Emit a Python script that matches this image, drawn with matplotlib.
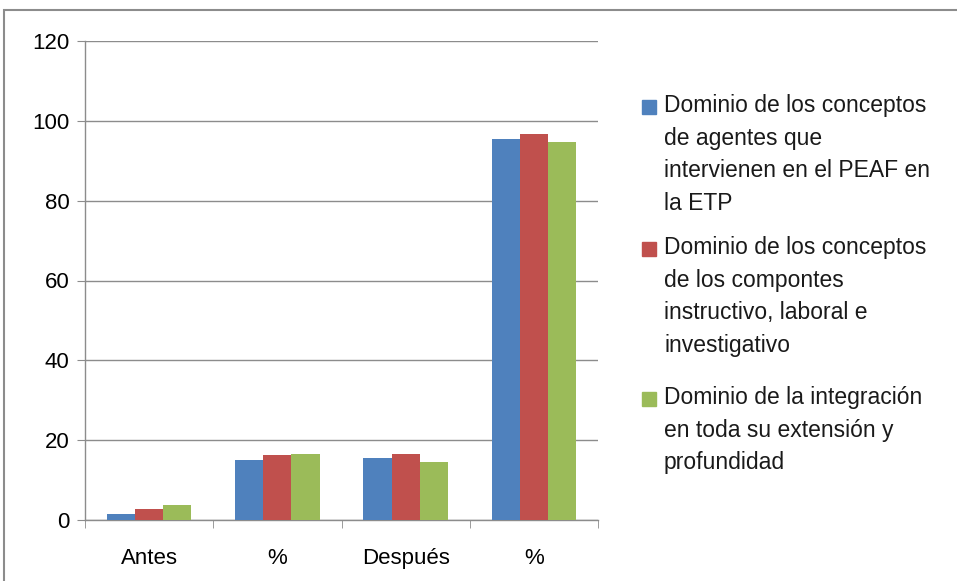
import matplotlib.pyplot as plt
from matplotlib.patches import Rectangle
import numpy as np

plt.rcParams['font.family'] = ['Liberation Sans', 'DejaVu Sans']

# datos
categorias = ['Antes', '%', 'Después', '%']
serie_agentes = [1.5, 15.0, 15.6, 95.4]
serie_componentes = [2.8, 16.3, 16.5, 96.6]
serie_integracion = [3.7, 16.5, 14.6, 94.6]
etiquetas = [
    'Dominio de los conceptos\nde agentes que\nintervienen en el PEAF en\nla ETP',
    'Dominio de los conceptos\nde los compontes\ninstructivo, laboral e\ninvestigativo',
    'Dominio de la integración\nen toda su extensión y\nprofundidad',
]
colores = ['#4F81BD', '#C0504D', '#9BBB59']

W, H = 957, 581
fig = plt.figure(figsize=(W / 100, H / 100), dpi=100)
ax = fig.add_axes([85 / W, 1 - 520 / H, 513 / W, 479 / H])

# marco exterior del gráfico
fig.patches.append(Rectangle((4 / W, -0.05), 1.0, 1 - 10 / H + 0.05,
                             transform=fig.transFigure, fill=False,
                             edgecolor='#8c8c8c', linewidth=1.5))

x = np.arange(len(categorias))
ancho = 0.22
series = [serie_agentes, serie_componentes, serie_integracion]
for i, (vals, color) in enumerate(zip(series, colores)):
    ax.bar(x + (i - 1) * ancho, vals, ancho, color=color, zorder=3)

ax.set_xlim(-0.5, 3.5)
ax.set_ylim(0, 120)
ax.set_yticks(range(0, 121, 20))
ax.yaxis.grid(True, color='#8c8c8c', linewidth=1)
ax.set_xticks(x)
ax.set_xticklabels(categorias, fontsize=16)
ax.set_xticks(np.arange(-0.5, 4, 1), minor=True)
ax.tick_params(axis='x', which='major', length=0, pad=20)
ax.tick_params(axis='x', which='minor', length=6, color='#8c8c8c', direction='out')
ax.tick_params(axis='y', length=6, color='#8c8c8c', labelsize=16, pad=5)

for s in ['top', 'right']:
    ax.spines[s].set_visible(False)
for s in ['left', 'bottom']:
    ax.spines[s].set_color('#8c8c8c')
    ax.spines[s].set_linewidth(1)

# leyenda a la derecha, cuadro alineado con la primera línea
centros = [107, 249, 399]
for lab, color, yc in zip(etiquetas, colores, centros):
    fig.patches.append(Rectangle((642 / W, 1 - (yc + 7) / H), 14 / W, 14 / H,
                                 transform=fig.transFigure, color=color))
    fig.text(664 / W, 1 - (yc - 13) / H, lab, fontsize=16.5, va='top', ha='left',
             linespacing=1.54, color='#1a1a1a')

fig.savefig('out.png', dpi=100)
